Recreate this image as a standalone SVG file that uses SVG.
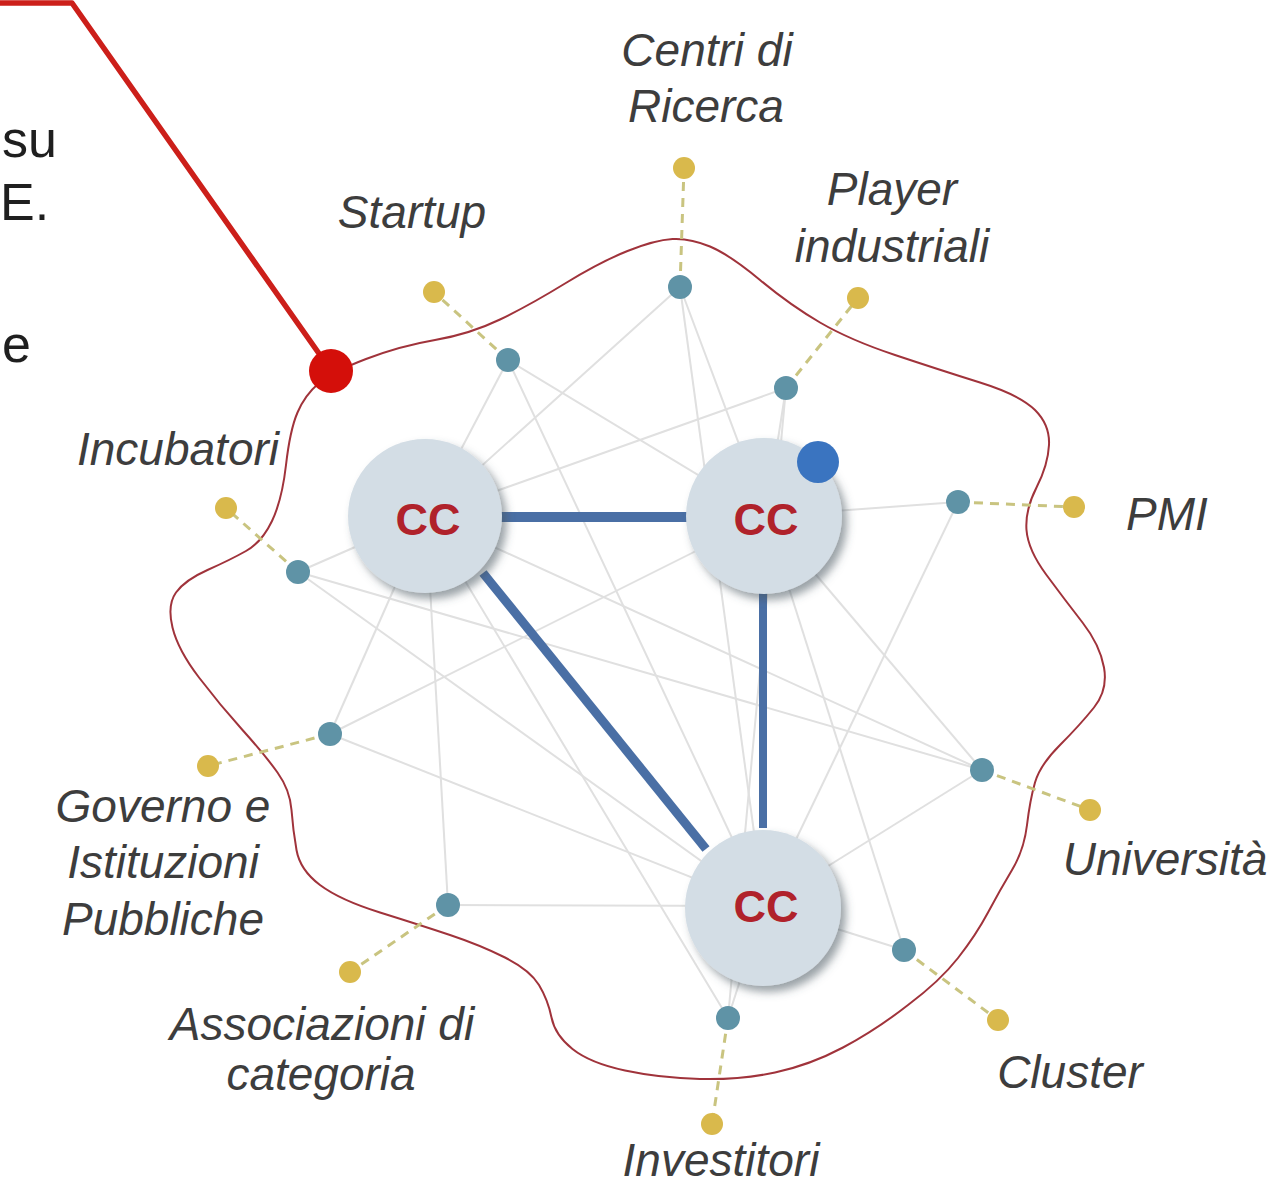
<svg xmlns="http://www.w3.org/2000/svg" width="1281" height="1184" viewBox="0 0 1281 1184">
<defs>
<filter id="sh" x="-30%" y="-30%" width="160%" height="160%">
<feDropShadow dx="5" dy="6" stdDeviation="4" flood-color="#4a5560" flood-opacity="0.55"/>
</filter>
<style>
.lbl{font-family:"Liberation Sans",Arial,sans-serif;font-style:italic;font-size:46px;fill:#3d3d3d;text-anchor:middle}
.side{font-family:"Liberation Sans",Arial,sans-serif;font-size:52px;fill:#1f1f1f}
.cc{font-family:"Liberation Sans",Arial,sans-serif;font-weight:bold;font-size:45px;fill:#b0222b;text-anchor:middle}
.net{stroke:#e0e0e0;stroke-width:2;fill:none}
.dash{stroke:#c9c480;stroke-width:3;stroke-dasharray:9 7;fill:none}
.strong{stroke:#4a6fa5;fill:none;stroke-linecap:butt}
.teal{fill:#5f93a6}
.gold{fill:#d9b94c}
.ccc{fill:#d3dde5;filter:url(#sh)}
</style>
</defs>
<rect width="1281" height="1184" fill="#ffffff"/>

<!-- side texts -->
<text class="side" x="2" y="157">su</text>
<text class="side" x="0" y="220">E.</text>
<text class="side" x="2" y="362">e</text>

<!-- boundary blob -->
<path id="blob" d="M 318.5 383.5 Q 332 372 366 359 Q 400 346 435 340 Q 470 334 500 319.5 Q 530 305 565 283.5 Q 600 262 627.5 251 Q 655 240 672.5 239 Q 690 238 710 246.5 Q 730 255 760 280 Q 790 305 820 322.5 Q 850 340 895 355 Q 940 370 980 382.5 Q 1020 395 1035 410 Q 1050 425 1049 445 Q 1048 465 1036.5 487.5 Q 1025 510 1026.5 530 Q 1028 550 1046.5 575 Q 1065 600 1082.5 622.5 Q 1100 645 1104 667.5 Q 1108 690 1094 707.5 Q 1080 725 1060 745 Q 1040 765 1035 782.5 Q 1030 800 1027 825 Q 1024 850 1012 870 Q 1000 890 988 912.5 Q 976 935 958 958 Q 940 981 908 1005 Q 876 1030 843 1047.5 Q 810 1065 775 1072.5 Q 740 1080 700 1079 Q 660 1078 625 1070.5 Q 590 1063 572.5 1049 Q 555 1035 551.5 1017.5 Q 548 1000 539 985 Q 530 970 505 957.5 Q 480 945 450 935 Q 420 925 380 912.5 Q 340 900 320 885 Q 300 870 296.5 850 Q 293 830 291.5 810 Q 290 790 277.5 772.5 Q 265 755 242.5 730 Q 220 705 199 677.5 Q 178 650 172.5 627.5 Q 167 605 176 592.5 Q 185 580 207.5 570 Q 230 560 246 551 Q 262 542 272 521 Q 282 500 286 465 Q 290 430 297.5 412.5 Q 305 395 318.5 383.5 Z" fill="none" stroke="#a0333b" stroke-width="2"/>

<g id="connectors">
<!-- light network -->
<line class="net" x1="508" y1="360" x2="426" y2="516"/>
<line class="net" x1="508" y1="360" x2="766" y2="516"/>
<line class="net" x1="508" y1="360" x2="764" y2="906"/>
<line class="net" x1="680" y1="287" x2="426" y2="516"/>
<line class="net" x1="680" y1="287" x2="766" y2="516"/>
<line class="net" x1="680" y1="287" x2="764" y2="906"/>
<line class="net" x1="786" y1="388" x2="426" y2="516"/>
<line class="net" x1="786" y1="388" x2="766" y2="516"/>
<line class="net" x1="958" y1="502" x2="766" y2="516"/>
<line class="net" x1="958" y1="502" x2="764" y2="906"/>
<line class="net" x1="298" y1="572" x2="426" y2="516"/>
<line class="net" x1="298" y1="572" x2="982" y2="770"/>
<line class="net" x1="298" y1="572" x2="764" y2="906"/>
<line class="net" x1="330" y1="734" x2="426" y2="516"/>
<line class="net" x1="330" y1="734" x2="766" y2="516"/>
<line class="net" x1="330" y1="734" x2="764" y2="906"/>
<line class="net" x1="982" y1="770" x2="766" y2="516"/>
<line class="net" x1="982" y1="770" x2="764" y2="906"/>
<line class="net" x1="982" y1="770" x2="426" y2="516"/>
<line class="net" x1="448" y1="905" x2="764" y2="906"/>
<line class="net" x1="448" y1="905" x2="426" y2="516"/>
<line class="net" x1="904" y1="950" x2="764" y2="906"/>
<line class="net" x1="904" y1="950" x2="766" y2="516"/>
<line class="net" x1="728" y1="1018" x2="426" y2="516"/>
<line class="net" x1="728" y1="1018" x2="764" y2="906"/>
<line class="net" x1="728" y1="1018" x2="786" y2="388"/>

<!-- dashed links to outer actors -->
<line class="dash" x1="680" y1="287" x2="684" y2="168"/>
<line class="dash" x1="508" y1="360" x2="434" y2="292"/>
<line class="dash" x1="786" y1="388" x2="858" y2="298"/>
<line class="dash" x1="958" y1="502" x2="1074" y2="507"/>
<line class="dash" x1="298" y1="572" x2="226" y2="508"/>
<line class="dash" x1="330" y1="734" x2="208" y2="766"/>
<line class="dash" x1="982" y1="770" x2="1090" y2="810"/>
<line class="dash" x1="448" y1="905" x2="350" y2="972"/>
<line class="dash" x1="904" y1="950" x2="998" y2="1020"/>
<line class="dash" x1="728" y1="1018" x2="712" y2="1124"/>

<!-- strong links between CC -->
<line class="strong" x1="500" y1="517" x2="688" y2="517" stroke-width="10"/>
<line class="strong" x1="483" y1="573" x2="706" y2="849" stroke-width="9"/>
<line class="strong" x1="763" y1="592" x2="763" y2="828" stroke-width="8"/>

<!-- red pointer line -->
<polyline points="0,3 72,3 332,372" fill="none" stroke="#cc1f1a" stroke-width="5.5" stroke-linejoin="round"/>
</g>

<!-- CC nodes -->
<g id="cc-left"><circle class="ccc" cx="425" cy="516" r="77"/><text class="cc" x="428" y="535">CC</text></g>
<g id="cc-right"><circle class="ccc" cx="764" cy="516" r="78"/><text class="cc" x="766" y="535">CC</text></g>
<g id="cc-bottom"><circle class="ccc" cx="763" cy="908" r="78"/><text class="cc" x="766" y="922">CC</text></g>

<g id="blue-dot"><circle cx="818" cy="462" r="21" fill="#3a74c0"/></g>
<g id="red-dot"><circle cx="331" cy="371" r="22" fill="#d40f0a"/></g>

<!-- actor nodes -->
<g id="centri-di-ricerca">
<circle class="teal" cx="680" cy="287" r="12"/><circle class="gold" cx="684" cy="168" r="11"/>
<text class="lbl" x="707" y="66">Centri di</text><text class="lbl" x="706" y="122">Ricerca</text>
</g>
<g id="startup">
<circle class="teal" cx="508" cy="360" r="12"/><circle class="gold" cx="434" cy="292" r="11"/>
<text class="lbl" x="412" y="228">Startup</text>
</g>
<g id="player-industriali">
<circle class="teal" cx="786" cy="388" r="12"/><circle class="gold" cx="858" cy="298" r="11"/>
<text class="lbl" x="892" y="205">Player</text><text class="lbl" x="892" y="262">industriali</text>
</g>
<g id="pmi">
<circle class="teal" cx="958" cy="502" r="12"/><circle class="gold" cx="1074" cy="507" r="11"/>
<text class="lbl" x="1167" y="530">PMI</text>
</g>
<g id="incubatori">
<circle class="teal" cx="298" cy="572" r="12"/><circle class="gold" cx="226" cy="508" r="11"/>
<text class="lbl" x="178" y="465">Incubatori</text>
</g>
<g id="governo">
<circle class="teal" cx="330" cy="734" r="12"/><circle class="gold" cx="208" cy="766" r="11"/>
<text class="lbl" x="163" y="822">Governo e</text><text class="lbl" x="163" y="878">Istituzioni</text><text class="lbl" x="163" y="935">Pubbliche</text>
</g>
<g id="universita">
<circle class="teal" cx="982" cy="770" r="12"/><circle class="gold" cx="1090" cy="810" r="11"/>
<text class="lbl" x="1165" y="875">Università</text>
</g>
<g id="associazioni">
<circle class="teal" cx="448" cy="905" r="12"/><circle class="gold" cx="350" cy="972" r="11"/>
<text class="lbl" x="322" y="1040">Associazioni di</text><text class="lbl" x="321" y="1090">categoria</text>
</g>
<g id="cluster">
<circle class="teal" cx="904" cy="950" r="12"/><circle class="gold" cx="998" cy="1020" r="11"/>
<text class="lbl" x="1070" y="1088">Cluster</text>
</g>
<g id="investitori">
<circle class="teal" cx="728" cy="1018" r="12"/><circle class="gold" cx="712" cy="1124" r="11"/>
<text class="lbl" x="721" y="1176">Investitori</text>
</g>
</svg>
